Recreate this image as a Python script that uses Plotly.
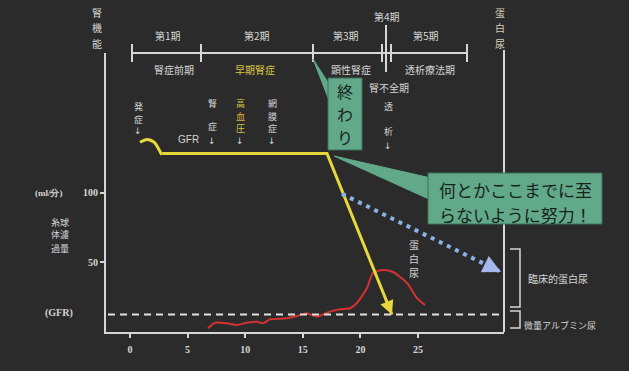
import plotly.graph_objects as go

# ---------------- data ----------------
year_ticks = [0, 5, 10, 15, 20, 25]
gfr_ticks = [50, 100]

# GFR course (yellow): hyperfiltration bump after onset, plateau, then decline
onset_x = [0.87, 1.5, 2.1, 2.5, 2.75]
onset_y = [136, 138, 136, 131, 127]
gfr_x = [2.8, 17.1, 22.74]
gfr_y = [128, 128, 12.5]

# goal: slow the decline (blue dotted)
goal_x = [18.4, 32.2]
goal_y = [99, 43]

# proteinuria (red)
prot_x = [6.77, 7.38, 8.42, 9.29, 10.16, 11.02, 11.55, 12.15, 13.63, 14.5, 15.36,
          16.23, 17.36, 18.23, 19.1, 19.7, 20.57, 21.09, 21.96, 22.83, 24.05, 24.9, 25.6]
prot_y = [2.65, 6.67, 6.24, 5.02, 6.67, 7.38, 6.24, 9.1, 9.8, 11.5, 13.4,
          11.0, 14.6, 16.3, 17.0, 20.8, 31.5, 42.3, 44.4, 43.0, 35.1, 24.4, 19.4]

threshold = 12.5

stage_top = ["第1期", "第2期", "第3期", "第5期"]
stage_sub = ["腎症前期", "早期腎症", "顕性腎症", "透析療法期"]

# ---------------- geometry / style ----------------
W, H = 629, 371
L, R, T, B = 106, 504, 53, 332
X0, X1 = (L - 130) / 11.52, (R - 130) / 11.52
Y0, Y1 = 0, 200

BG = "#2b2b2b"
LIGHT = "#d6d6d6"
YEL = "#e6d83a"
YEL_TXT = "#d9c548"
GREEN = "#62a98a"
DARK_TXT = "#18231e"
JP = "Noto Sans CJK JP"
SERIF = "Liberation Serif"
SYM = "DejaVu Sans"


def xp(px):
    return (px - L) / (R - L)


def yp(py):
    return (B - py) / (B - T)


fig = go.Figure()

# proteinuria
fig.add_trace(go.Scatter(x=prot_x, y=prot_y, mode="lines",
                         line=dict(color="#d43232", width=2, shape="spline", smoothing=0.6),
                         hoverinfo="skip"))
# GFR
fig.add_trace(go.Scatter(x=onset_x, y=onset_y, mode="lines",
                         line=dict(color=YEL, width=3, shape="spline"), hoverinfo="skip"))
fig.add_trace(go.Scatter(x=gfr_x, y=gfr_y, mode="lines",
                         line=dict(color=YEL, width=3), hoverinfo="skip"))
# goal line
fig.add_trace(go.Scatter(x=goal_x, y=goal_y, mode="lines",
                         line=dict(color="#8db0e6", width=4, dash="4px,5px"), hoverinfo="skip"))

annotations = []


# arrowheads on the yellow and blue lines
def arrow_end(xs, ys, color, width, size, back):
    ax = xs[-1] - (xs[-1] - xs[-2]) * back
    ay = ys[-1] - (ys[-1] - ys[-2]) * back
    annotations.append(dict(x=xs[-1], y=ys[-1], ax=ax, ay=ay, xref="x", yref="y",
                            axref="x", ayref="y", text="", showarrow=True,
                            arrowhead=2, arrowsize=size, arrowwidth=width,
                            arrowcolor=color, standoff=0))


arrow_end(gfr_x, gfr_y, YEL, 2.5, 1.1, 0.12)
arrow_end(goal_x, goal_y, "#a6b9ec", 4, 0.9, 0.07)


def label(text, x, y, size=10, color=LIGHT, family=JP, weight="normal", anchor="center"):
    annotations.append(dict(text=text, x=xp(x), y=yp(y), xref="paper", yref="paper",
                            showarrow=False, xanchor=anchor, yanchor="middle",
                            font=dict(size=size, color=color, family=family, weight=weight)))


def column(chars, x, ys, size=9, color=LIGHT):
    # vertical writing: one glyph per row
    cols = color if isinstance(color, list) else [color] * len(chars)
    for ch, y, c in zip(chars, ys, cols):
        if ch == "↓":
            label(ch, x, y, size=size, color=LIGHT, family=SYM)
        else:
            label(ch, x, y, size=size, color=c)


# axis titles
column("腎機能", 97, [12, 27.5, 43], size=10)
column("蛋白尿", 500, [12, 27.5, 43], size=10, color="#d8d0bc")
label("(ml/分)", 49, 193, size=9, family=SERIF, weight="bold")
label("糸球", 60, 222, size=9)
label("体濾", 60, 235, size=9)
label("過量", 60, 248, size=9)
label("(GFR)", 59, 313, size=10, family=SERIF, weight="bold")

# stage bar texts
for txt, x in zip(stage_top, [168, 257, 346, 426]):
    label(txt, x, 36, size=10)
label("第4期", 387, 17, size=10)
for txt, x in zip(stage_sub, [174, 255, 351, 430]):
    label(txt, x, 69, size=10, color=YEL_TXT if txt == "早期腎症" else LIGHT)
label("腎不全期", 389, 87, size=10)

# events along the timeline
column("発症↓", 138, [106, 119, 131], size=9)
label("GFR", 188, 139, size=10, family="Liberation Sans")
column("腎症↓", 212, [103, 127, 141], size=9)
column("高血圧↓", 240, [103, 116, 128, 141], size=9, color=[YEL_TXT, "#e0a93c", YEL_TXT, LIGHT])
column("網膜症↓", 272, [103, 116, 128, 141], size=9)
column("透析↓", 388, [106, 131, 146], size=9)
column("蛋白尿", 414, [244, 258, 272], size=10)

# right-hand brackets
label("臨床的蛋白尿", 558, 278, size=10)
label("微量アルブミン尿", 560, 325, size=9)

# callout texts
column("終わり", 345, [91, 114, 137], size=16, color=DARK_TXT)
label("何とかここまでに至", 437, 189, size=17, color=DARK_TXT, anchor="left")
label("らないように努力！", 437, 214, size=17, color=DARK_TXT, anchor="left")

shapes = []


def line(x0, y0, x1, y1, color=LIGHT, width=2):
    shapes.append(dict(type="line", xref="paper", yref="paper",
                       x0=xp(x0), y0=yp(y0), x1=xp(x1), y1=yp(y1), layer="above",
                       line=dict(color=color, width=width)))


def path(pts, fill=None, color=LIGHT, width=2, close=False):
    d = "M" + " L".join(f"{xp(a):.5f},{yp(b):.5f}" for a, b in pts) + (" Z" if close else "")
    shapes.append(dict(type="path", xref="paper", yref="paper", path=d, layer="above",
                       fillcolor=fill if fill else "rgba(0,0,0,0)",
                       line=dict(color=color, width=width)))


# stage bar
line(132, 53, 467, 53)
for x in [132, 201, 313, 382, 391, 467]:
    line(x, 44, x, 62)
line(386, 25, 386, 72)

# right axis line
line(R, 50, R, B)

# threshold dashed line
shapes.append(dict(type="line", xref="paper", yref="y", x0=0.005, x1=1, y0=threshold, y1=threshold,
                   line=dict(color="#e2e2e2", width=2, dash="7px,5px"), layer="above"))

# brackets
path([(510, 249), (520, 249), (520, 307), (510, 307)], width=1.5)
path([(510, 311), (520, 311), (520, 328), (510, 328)], width=1.5)

# callout 1
path([(313, 59), (329, 84), (329, 100)], fill=GREEN, color=GREEN, width=1, close=True)
shapes.append(dict(type="rect", xref="paper", yref="paper", x0=xp(328), x1=xp(362),
                   y0=yp(150), y1=yp(78), fillcolor=GREEN, layer="above",
                   line=dict(color="#3d6e58", width=1)))
# callout 2
path([(334, 156), (431, 178), (431, 200)], fill=GREEN, color=GREEN, width=1, close=True)
shapes.append(dict(type="rect", xref="paper", yref="paper", x0=xp(428), x1=xp(602),
                   y0=yp(224), y1=yp(173), fillcolor=GREEN, layer="above",
                   line=dict(color="#3d6e58", width=1)))

axis_font = dict(family=SERIF, size=10, color=LIGHT, weight="bold")
fig.update_layout(
    width=W, height=H, autosize=False,
    margin=dict(l=L, r=W - R, t=T, b=H - B, pad=0),
    paper_bgcolor=BG, plot_bgcolor=BG,
    showlegend=False,
    xaxis=dict(range=[X0, X1], tickvals=year_ticks, ticks="outside", ticklen=4,
               tickwidth=1.5, tickcolor=LIGHT, showline=True, linecolor=LIGHT,
               linewidth=2, showgrid=False, zeroline=False, tickfont=axis_font,
               ticklabelstandoff=3, fixedrange=True),
    yaxis=dict(range=[Y0, Y1], tickvals=gfr_ticks, ticks="outside", ticklen=4,
               tickwidth=1.5, tickcolor=LIGHT, showline=True, linecolor=LIGHT,
               linewidth=2, showgrid=False, zeroline=False, tickfont=axis_font,
               fixedrange=True),
    annotations=annotations,
    shapes=shapes,
)

fig.write_html("out.html", config={"displayModeBar": False})
